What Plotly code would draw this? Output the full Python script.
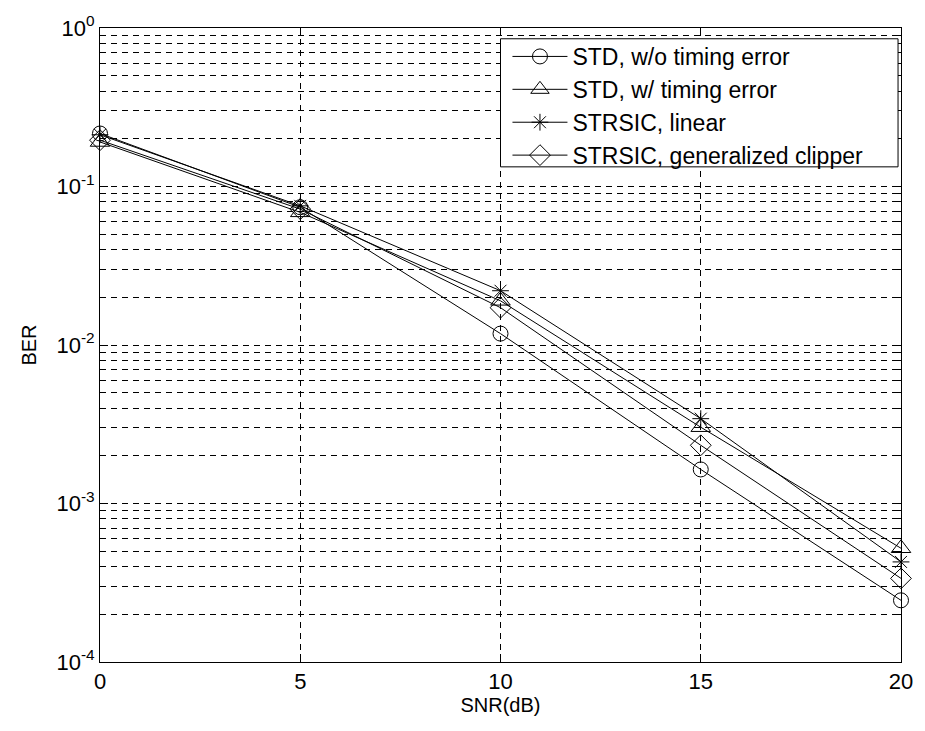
import plotly.graph_objects as go

snr = [0, 5, 10, 15, 20]
ber_std_no_err = [0.216, 0.074, 0.0118, 0.00164, 0.000245]
ber_std_err = [0.191, 0.0687, 0.019, 0.00303, 0.000522]
ber_strsic_linear = [0.212, 0.0755, 0.022, 0.00343, 0.000428]
ber_strsic_clip = [0.196, 0.072, 0.0172, 0.00233, 0.000337]

names = ["STD, w/o timing error", "STD, w/ timing error", "STRSIC, linear", "STRSIC, generalized clipper"]
symbols = ["circle-open", "triangle-up-open", "asterisk-open", "diamond-open"]
sizes = [15, 17, 14, 16]
series = [ber_std_no_err, ber_std_err, ber_strsic_linear, ber_strsic_clip]

ytickvals = [1e-4, 1e-3, 1e-2, 1e-1, 1]
yticktext = ["10<sup>-4</sup>", "10<sup>-3</sup>", "10<sup>-2</sup>", "10<sup>-1</sup>", "10<sup>0</sup>"]
xtickvals = [0, 5, 10, 15, 20]

fig = go.Figure()
for name, sym, sz, ys in zip(names, symbols, sizes, series):
    fig.add_trace(go.Scatter(
        x=snr, y=ys, mode="lines+markers", name=name, cliponaxis=False,
        line=dict(color="black", width=1),
        marker=dict(symbol=sym, size=sz, color="black", line=dict(color="black", width=1)),
    ))

font = "Liberation Sans, Arial, sans-serif"
# legend frame (decoration only)
fig.add_shape(type="rect", xref="paper", yref="paper",
              x0=0.5, x1=0.9963, y0=0.781, y1=0.983,
              fillcolor="white", line=dict(color="black", width=1), layer="above")

fig.update_layout(
    width=925, height=731,
    margin=dict(l=100, r=19, t=27, b=69),
    paper_bgcolor="white", plot_bgcolor="white",
    font=dict(family=font, size=22, color="black"),
    showlegend=True,
    legend=dict(
        x=0.5087, y=0.989, xanchor="left", yanchor="top",
        bgcolor="rgba(0,0,0,0)", borderwidth=0,
        font=dict(family=font, size=23, color="black"),
        itemwidth=55, tracegroupgap=0,
    ),
)
grid_dash = "6px,5px"
fig.update_xaxes(
    range=[0, 20], tickvals=xtickvals, ticks="inside", ticklen=8, tickcolor="black",
    showline=True, linecolor="black", linewidth=1, mirror="allticks",
    showgrid=True, gridcolor="black", gridwidth=1, griddash=grid_dash,
    zeroline=False,
    title=dict(text="SNR(dB)", font=dict(size=20), standoff=0),
    tickfont=dict(size=22),
)
fig.update_yaxes(
    type="log", range=[-4, 0], tickvals=ytickvals, ticktext=yticktext,
    ticks="inside", ticklen=8, tickcolor="black",
    showline=True, linecolor="black", linewidth=1, mirror="allticks",
    showgrid=True, gridcolor="black", gridwidth=1, griddash=grid_dash,
    minor=dict(dtick="D1", ticks="inside", ticklen=5, tickcolor="black",
               showgrid=True, gridcolor="black", gridwidth=1, griddash=grid_dash),
    zeroline=False,
    title=dict(text="BER", font=dict(size=20), standoff=14),
    tickfont=dict(size=22),
)

fig.write_html("out.html")
